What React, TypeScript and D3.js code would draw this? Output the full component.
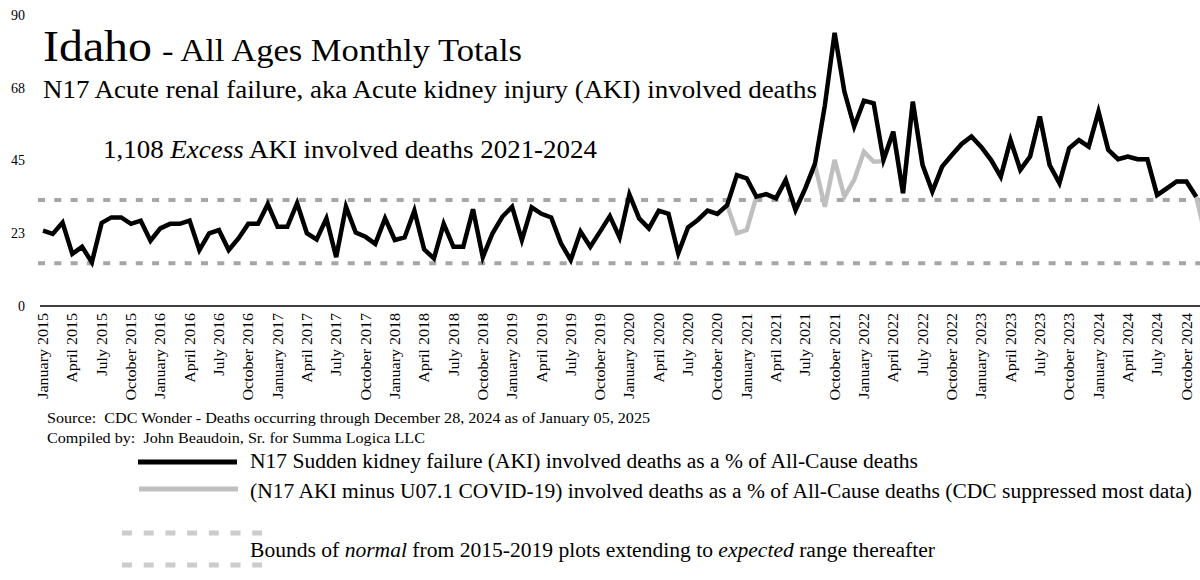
import React from 'react';
import * as d3 from 'd3';

// ---- Data ----
const monthDates: Date[] = d3.range(120).map((i) => new Date(2015, i, 1));
const monthKeys: string[] = monthDates.map((d) => d3.timeFormat('%Y-%m')(d));

// N17 AKI involved deaths as % of all-cause (Jan 2015 .. Nov 2024)
const akiValues: number[] = [
  23.3, 22.3, 25.8, 16.1, 18.3, 13.5, 25.7, 27.4, 27.4, 25.4, 26.4, 20.2,
  24.0, 25.4, 25.4, 26.4, 17.3, 22.5, 23.5, 17.3, 20.9, 25.4, 25.4, 31.5,
  24.5, 24.5, 31.8, 22.5, 20.6, 27.1, 15.1, 30.7, 22.7, 21.4, 19.2, 27.1,
  20.4, 21.2, 29.5, 17.5, 14.7, 25.4, 18.3, 18.3, 29.9, 15.1, 22.5, 27.6,
  30.7, 20.4, 30.5, 28.5, 27.4, 19.4, 14.2, 23.0, 18.3, 23.0, 27.8, 21.2,
  34.5, 27.1, 24.0, 29.5, 28.5, 16.3, 24.3, 26.6, 29.5, 28.5, 31.2, 40.5,
  39.5, 33.8, 34.6, 33.3, 39.0, 29.7, 36.4, 44.1, 62.0, 84.5, 66.3, 55.5,
  63.5, 62.7, 45.2, 53.9, 34.9, 63.2, 43.6, 35.4, 43.1, 46.7, 50.1, 52.4,
  49.2, 45.2, 40.0, 51.3, 42.1, 46.2, 58.6, 43.6, 38.0, 48.8, 51.3, 49.3,
  60.1, 48.3, 45.4, 46.2, 45.4, 45.4, 34.3, 36.4, 38.5, 38.5, 33.8,
];

// N17 AKI minus U07.1 COVID-19 (Nov 2020 .. Dec 2024)
const minusCovidStartIndex = 70;
const minusCovidValues: number[] = [
  31.2, 22.5, 23.5, 33.8, 34.6, 33.3, 39.0, 29.7, 36.4, 43.5, 30.7, 45.2,
  33.8, 39.0, 47.7, 44.6, 44.8, 53.9, 34.9, 63.2, 43.6, 35.4, 43.1, 46.7,
  50.1, 52.4, 49.2, 45.2, 40.0, 51.3, 42.1, 46.2, 58.6, 43.6, 38.0, 48.8,
  51.3, 49.3, 60.1, 48.3, 45.4, 46.2, 45.4, 45.4, 34.3, 36.4, 38.5, 38.5,
  33.8, 21.0,
];

// Bounds of normal (2015-2019)
const boundLow = 13.2;
const boundHigh = 32.8;

const yTickValues: number[] = [0, 22.5, 45, 67.5, 90];
const yTickLabels: string[] = ['0', '23', '45', '68', '90'];

const FONT =
  "'Liberation Serif', Tinos, 'Times New Roman', Times, 'Nimbus Roman', FreeSerif, 'DejaVu Serif', serif";

// Times-metric em widths for month names (keeps label lengths like the reference)
const monthEm: Record<string, number> = { January: 3.11, April: 2.111, July: 1.667, October: 3.221 };

export default function App() {
  const W = 1200;
  const H = 580;
  const step = 9.773;
  const x0 = 43;

  const x = d3
    .scalePoint<string>()
    .domain(monthKeys)
    .range([x0, x0 + (monthKeys.length - 1) * step]);
  const y = d3.scaleLinear().domain([0, 90]).range([306, 15]);

  const akiPts = akiValues.map((v, i) => [x(monthKeys[i]) as number, y(v)] as [number, number]);
  const greyPts = minusCovidValues.map(
    (v, i) => [x(monthKeys[i + minusCovidStartIndex]) as number, y(v)] as [number, number]
  );
  const line = d3.line<[number, number]>().x((d) => d[0]).y((d) => d[1]);

  const fmtMonth = d3.timeFormat('%B');
  const fmt = d3.timeFormat('%B %Y');
  const tickIdx = monthDates.map((_, i) => i).filter((i) => i % 3 === 0);
  const SG = 'spacingAndGlyphs';

  return (
    <svg
      width={W}
      height={H}
      style={{ position: 'absolute', left: 0, top: 0, background: '#fff', fontFamily: FONT }}
    >
      <rect x={0} y={0} width={W} height={H} fill="#fff" />

      {/* y tick labels */}
      {yTickValues.map((v, i) => (
        <text
          key={v}
          x={25}
          y={y(v)}
          dy="0.35em"
          textAnchor="end"
          fontSize={14}
          fill="#000"
          textLength={yTickLabels[i].length * 7}
          lengthAdjust={SG}
        >
          {yTickLabels[i]}
        </text>
      ))}

      {/* bounds */}
      {[boundHigh, boundLow].map((b) => (
        <line
          key={b}
          x1={38}
          x2={1215}
          y1={y(b)}
          y2={y(b)}
          stroke="#a6a6a6"
          strokeWidth={4}
          strokeDasharray="7 9.3"
        />
      ))}

      {/* x axis */}
      <line x1={40} x2={1215} y1={y(0)} y2={y(0)} stroke="#000" strokeWidth={1.5} />
      {tickIdx.map((i) => (
        <text
          key={i}
          transform={`translate(${x(monthKeys[i])},313) rotate(-90)`}
          textAnchor="end"
          dy="0.35em"
          fontSize={14.5}
          fill="#000"
          textLength={(monthEm[fmtMonth(monthDates[i])] + 2.25) * 16}
          lengthAdjust={SG}
        >
          {fmt(monthDates[i])}
        </text>
      ))}

      {/* series */}
      <path d={line(greyPts) || ''} fill="none" stroke="#bfbfbf" strokeWidth={4.5} strokeLinejoin="miter" />
      <path d={line(akiPts) || ''} fill="none" stroke="#000" strokeWidth={4.5} strokeLinejoin="miter" />

      {/* titles */}
      <text x={43} y={61} fontSize={44} fill="#000" textLength={109} lengthAdjust={SG}>
        Idaho
      </text>
      <text x={162} y={61} fontSize={31} fill="#000" textLength={360} lengthAdjust={SG}>
        - All Ages Monthly Totals
      </text>
      <text x={43} y={98} fontSize={24.5} fill="#000" textLength={774} lengthAdjust={SG}>
        N17 Acute renal failure, aka Acute kidney injury (AKI) involved deaths
      </text>
      <text x={103} y={158} fontSize={24.5} fill="#000" textLength={494} lengthAdjust={SG}>
        1,108 <tspan fontStyle="italic">Excess</tspan> AKI involved deaths 2021-2024
      </text>

      {/* source */}
      <text x={47} y={423} fontSize={14.5} fill="#000" style={{ whiteSpace: 'pre' }} textLength={603} lengthAdjust={SG}>
        {'Source:  CDC Wonder - Deaths occurring through December 28, 2024 as of January 05, 2025'}
      </text>
      <text x={47} y={443} fontSize={14.5} fill="#000" style={{ whiteSpace: 'pre' }} textLength={378} lengthAdjust={SG}>
        {'Compiled by:  John Beaudoin, Sr. for Summa Logica LLC'}
      </text>

      {/* legend */}
      <line x1={138} x2={237} y1={462} y2={462} stroke="#000" strokeWidth={5} />
      <text x={250} y={468} fontSize={20} fill="#000" textLength={668} lengthAdjust={SG}>
        N17 Sudden kidney failure (AKI) involved deaths as a % of All-Cause deaths
      </text>
      <line x1={139} x2={238} y1={489} y2={489} stroke="#c0c0c0" strokeWidth={5} />
      <text x={250} y={498} fontSize={20} fill="#000" textLength={942} lengthAdjust={SG}>
        (N17 AKI minus U07.1 COVID-19) involved deaths as a % of All-Cause deaths (CDC suppressed most data)
      </text>
      <line x1={122} x2={262} y1={533} y2={533} stroke="#cccccc" strokeWidth={5} strokeDasharray="10 11.7" />
      <line x1={122} x2={262} y1={565} y2={565} stroke="#cccccc" strokeWidth={5} strokeDasharray="10 11.7" />
      <text x={250} y={557} fontSize={20} fill="#000" textLength={685} lengthAdjust={SG}>
        Bounds of <tspan fontStyle="italic">normal</tspan> from 2015-2019 plots extending to{' '}
        <tspan fontStyle="italic">expected</tspan> range thereafter
      </text>
    </svg>
  );
}
